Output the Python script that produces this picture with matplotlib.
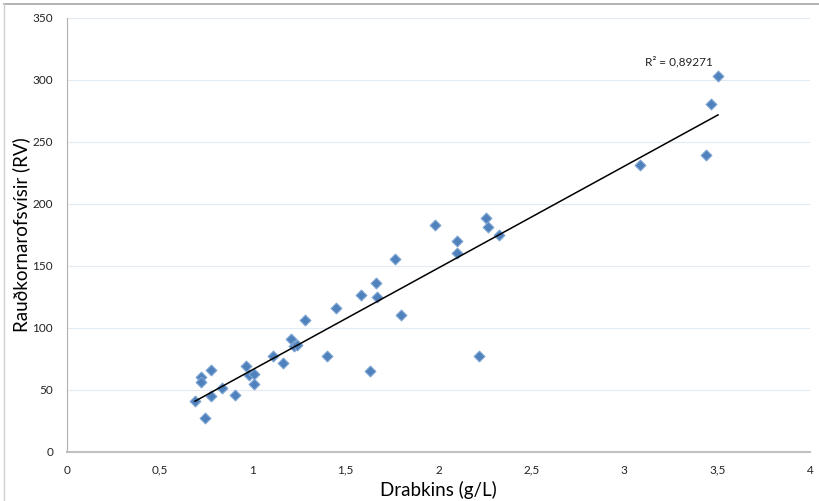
import numpy as np
import matplotlib.pyplot as plt
from matplotlib.lines import Line2D

# Drabkins (g/L) vs Rauðkornarofsvísir (RV)
drabkins = [0.689, 0.721, 0.721, 0.743, 0.775, 0.775, 0.834, 0.904, 0.964, 0.98,
            1.007, 1.007, 1.109, 1.163, 1.206, 1.222, 1.238, 1.281, 1.4, 1.448,
            1.631, 1.583, 1.664, 1.669, 1.766, 1.798, 1.981, 2.1, 2.1, 2.256,
            2.266, 2.326, 2.218, 3.085, 3.44, 3.467, 3.505]
rv = [41.1, 60.5, 56.5, 27.4, 66.1, 45.2, 51.6, 46.0, 69.4, 62.0,
      62.9, 54.8, 77.4, 71.8, 91.1, 85.5, 86.3, 106.5, 77.4, 116.1,
      65.3, 126.6, 136.3, 125.0, 155.6, 110.5, 183.0, 170.2, 160.5, 188.7,
      181.5, 175.0, 77.4, 231.5, 239.5, 280.6, 303.2]
r2_label = "R² = 0,89271"

xticks = [0, 0.5, 1, 1.5, 2, 2.5, 3, 3.5, 4]
xticklabels = ["0", "0,5", "1", "1,5", "2", "2,5", "3", "3,5", "4"]
yticks = [0, 50, 100, 150, 200, 250, 300, 350]

plt.rcParams['font.family'] = ['Lato', 'DejaVu Sans']

fig = plt.figure(figsize=(8.19, 5.01), dpi=100)
ax = fig.add_axes([67/819, 49/501, 743/819, 434/501])

# outer chart border (top and left)
fig.add_artist(Line2D([4/819, 1], [1 - 4/501, 1 - 4/501], color='#a6a6a6', lw=1.2))
fig.add_artist(Line2D([4/819, 4/819], [0, 1 - 4/501], color='#d0d0d0', lw=1.0))

ax.set_xlim(0, 4)
ax.set_ylim(0, 350)
ax.set_xticks(xticks)
ax.set_xticklabels(xticklabels)
ax.set_yticks(yticks)
ax.tick_params(length=0, labelsize=8.5, pad=9, colors='#222222')
ax.tick_params(axis='y', pad=10)

for y in yticks[1:]:
    ax.axhline(y, color='#e2eaf4', lw=0.8, zorder=0)

for s in ['top', 'right']:
    ax.spines[s].set_visible(False)
ax.spines['left'].set_color('#b0b0b0')
ax.spines['bottom'].set_color('#c0c0c0')
ax.spines['bottom'].set_linewidth(1.5)

ax.scatter(drabkins, rv, marker='D', s=30, color='#4f81bd', edgecolors='#7fa4d3',
           linewidths=0.8, zorder=3)

# linear trend line
k, b = np.polyfit(drabkins, rv, 1)
xs = np.array([min(drabkins), max(drabkins)])
ax.plot(xs, k * xs + b, color='black', lw=1.1, zorder=4)

ax.text(3.11, 312, r2_label, fontsize=8.5, color='#222222')

ax.set_xlabel("Drabkins (g/L)", fontsize=13.5, labelpad=4)
ax.set_ylabel("Rauðkornarofsvísir (RV)", fontsize=13.5, labelpad=2)

fig.savefig('out.png', dpi=100)
